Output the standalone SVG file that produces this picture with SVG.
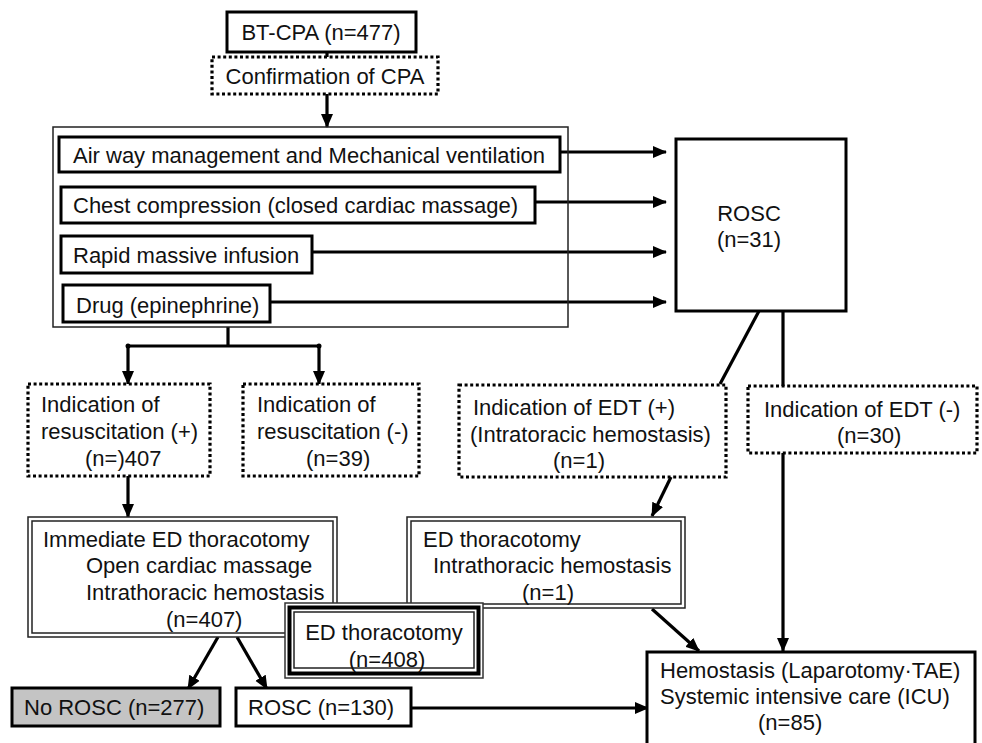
<svg xmlns="http://www.w3.org/2000/svg" width="982" height="743" viewBox="0 0 982 743">
<defs>
<marker id="ah" markerUnits="userSpaceOnUse" markerWidth="14" markerHeight="14" viewBox="0 0 14 14" refX="13" refY="7" orient="auto">
<path d="M0,1 L14,7 L0,13 Z" fill="#000"/>
</marker>
<style>
text{font-family:"Liberation Sans",Arial,sans-serif;font-size:22px;fill:#111}
.solid{fill:#fff;stroke:#000;stroke-width:3}
.dot{fill:#fff;stroke:#000;stroke-width:3.2;stroke-dasharray:3 2.6}
.thin{fill:none;stroke:#222;stroke-width:1.5}
.dbl{fill:#fff;stroke:#222;stroke-width:1.5}
.ln{fill:none;stroke:#000;stroke-width:3.2}
.mid{text-anchor:middle}
</style>
</defs>
<rect width="982" height="743" fill="#fff"/>

<g id="connectors">
<line class="ln" x1="327" y1="52" x2="327" y2="57"/>
<line class="ln" x1="327" y1="94" x2="327" y2="127" marker-end="url(#ah)"/>
<line class="ln" x1="560" y1="152" x2="666" y2="152" marker-end="url(#ah)"/>
<line class="ln" x1="535" y1="202" x2="666" y2="202" marker-end="url(#ah)"/>
<line class="ln" x1="312" y1="252" x2="666" y2="252" marker-end="url(#ah)"/>
<line class="ln" x1="270" y1="302" x2="666" y2="302" marker-end="url(#ah)"/>
<line class="ln" x1="228" y1="327" x2="228" y2="346"/>
<line class="ln" x1="128" y1="346" x2="319" y2="346"/>
<circle cx="128" cy="346" r="2.5" fill="#000"/>
<circle cx="319" cy="346" r="2.5" fill="#000"/>
<line class="ln" x1="128" y1="346" x2="128" y2="384" marker-end="url(#ah)"/>
<line class="ln" x1="319" y1="346" x2="319" y2="384" marker-end="url(#ah)"/>
<line class="ln" x1="759" y1="311" x2="720" y2="384"/>
<line class="ln" x1="783" y1="311" x2="783" y2="386"/>
<line class="ln" x1="783" y1="453" x2="783" y2="651" marker-end="url(#ah)"/>
<line class="ln" x1="671" y1="477" x2="652" y2="516" marker-end="url(#ah)"/>
<line class="ln" x1="128" y1="476" x2="128" y2="517" marker-end="url(#ah)"/>
<line class="ln" x1="652" y1="609" x2="699" y2="651" marker-end="url(#ah)"/>
<line class="ln" x1="218" y1="637" x2="188" y2="689" marker-end="url(#ah)"/>
<line class="ln" x1="237" y1="637" x2="267" y2="689" marker-end="url(#ah)"/>
<line class="ln" x1="411" y1="708" x2="648" y2="708" marker-end="url(#ah)"/>
</g>

<g id="bt-cpa">
<rect class="solid" x="227" y="12" width="189" height="40"/>
<text x="321" y="40" class="mid">BT-CPA (n=477)</text>
</g>

<g id="confirmation">
<rect class="dot" x="212" y="57" width="226" height="37"/>
<text x="325" y="84" class="mid">Confirmation of CPA</text>
</g>

<g id="treatment-group">
<rect class="thin" x="53" y="127" width="515" height="200"/>
</g>

<g id="airway">
<rect class="solid" x="59" y="137" width="501" height="35"/>
<text x="73" y="163">Air way management and Mechanical ventilation</text>
</g>

<g id="chest">
<rect class="solid" x="61" y="187" width="474" height="36"/>
<text x="73" y="213">Chest compression (closed cardiac massage)</text>
</g>

<g id="infusion">
<rect class="solid" x="61" y="236" width="251" height="37"/>
<text x="73" y="263">Rapid massive infusion</text>
</g>

<g id="drug">
<rect class="solid" x="63" y="285" width="207" height="37"/>
<text x="76" y="313">Drug (epinephrine)</text>
</g>

<g id="rosc31">
<rect class="solid" x="676" y="139" width="170" height="172"/>
<text x="749" y="221" class="mid">ROSC</text>
<text x="749" y="247" class="mid">(n=31)</text>
</g>

<g id="resus-plus">
<rect class="dot" x="28" y="384" width="182" height="92"/>
<text x="41" y="412">Indication of</text>
<text x="41" y="439">resuscitation (+)</text>
<text x="85" y="466">(n=)407</text>
</g>

<g id="resus-minus">
<rect class="dot" x="243" y="384" width="176" height="92"/>
<text x="257" y="412">Indication of</text>
<text x="257" y="439">resuscitation (-)</text>
<text x="306" y="466">(n=39)</text>
</g>

<g id="edt-plus">
<rect class="dot" x="459" y="385" width="267" height="92"/>
<text x="473" y="415">Indication of EDT (+)</text>
<text x="470" y="442">(Intratoracic hemostasis)</text>
<text x="553" y="468">(n=1)</text>
</g>

<g id="edt-minus">
<rect class="dot" x="748" y="386" width="229" height="67"/>
<text x="764" y="417">Indication of EDT (-)</text>
<text x="837" y="443">(n=30)</text>
</g>

<g id="immediate-edt">
<rect class="dbl" x="28" y="517" width="309" height="120"/>
<rect class="thin" x="32" y="521" width="301" height="112"/>
<text x="43" y="547">Immediate ED thoracotomy</text>
<text x="86" y="573">Open cardiac massage</text>
<text x="86" y="600">Intrathoracic hemostasis</text>
<text x="166" y="627">(n=407)</text>
</g>

<g id="edt-1">
<rect class="dbl" x="407" y="517" width="278" height="91"/>
<rect class="thin" x="411" y="521" width="270" height="83"/>
<text x="423" y="547">ED thoracotomy</text>
<text x="433" y="573">Intrathoracic hemostasis</text>
<text x="522" y="600">(n=1)</text>
</g>

<g id="edt-408">
<rect fill="#fff" stroke="#333" stroke-width="1.5" x="285" y="603" width="198" height="75"/>
<rect fill="none" stroke="#000" stroke-width="4" x="289.5" y="607.5" width="189" height="66"/>
<rect fill="none" stroke="#222" stroke-width="1.5" x="294" y="612" width="180" height="56"/>
<text x="384" y="640" class="mid">ED thoracotomy</text>
<text x="387" y="667" class="mid">(n=408)</text>
</g>

<g id="no-rosc">
<rect fill="#c4c4c4" stroke="#000" stroke-width="3" x="12" y="688" width="208" height="38"/>
<text x="24" y="715">No ROSC (n=277)</text>
</g>

<g id="rosc130">
<rect class="solid" x="236" y="688" width="175" height="38"/>
<text x="248" y="715">ROSC (n=130)</text>
</g>

<g id="hemostasis">
<rect class="solid" x="647" y="652" width="328" height="110"/>
<text x="660" y="678">Hemostasis (Laparotomy·TAE)</text>
<text x="660" y="704">Systemic intensive care (ICU)</text>
<text x="758" y="730">(n=85)</text>
</g>
</svg>
